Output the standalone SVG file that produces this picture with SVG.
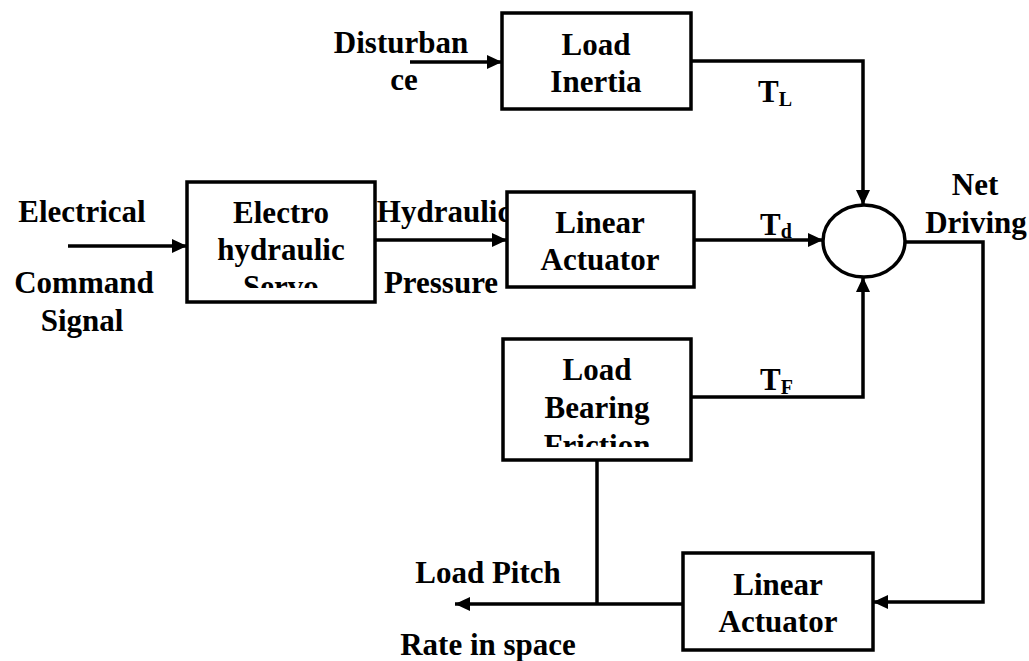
<svg xmlns="http://www.w3.org/2000/svg" width="1029" height="661" viewBox="0 0 1029 661">
<style>
text{font-family:'Liberation Serif','DejaVu Serif',serif;font-weight:700;font-size:31px;fill:#000;text-anchor:middle}
.sub{font-size:20px}
.box{fill:#fff;stroke:#000;stroke-width:3.5}
.wire{fill:none;stroke:#000;stroke-width:3.5}
</style>
<defs>
<marker id="ah" markerUnits="userSpaceOnUse" markerWidth="16" markerHeight="16" refX="15" refY="7" orient="auto">
<path d="M0,0 L15,7 L0,14 z" fill="#000"/>
</marker>
<clipPath id="c1"><rect x="187" y="182" width="188" height="106"/></clipPath>
<clipPath id="c2"><rect x="503" y="339" width="188" height="108"/></clipPath>
</defs>
<rect width="1029" height="661" fill="#fff"/>
<g id="connectors">
<line class="wire" x1="68" y1="246" x2="187" y2="246" marker-end="url(#ah)"/>
<line class="wire" x1="375" y1="240" x2="507" y2="240" marker-end="url(#ah)"/>
<line class="wire" x1="410" y1="62" x2="502" y2="62" marker-end="url(#ah)"/>
<polyline class="wire" points="691,61 863,61 863,205" marker-end="url(#ah)"/>
<line class="wire" x1="694" y1="240" x2="823" y2="240" marker-end="url(#ah)"/>
<polyline class="wire" points="691,397 863,397 863,277" marker-end="url(#ah)"/>
<polyline class="wire" points="905,242 983,242 983,602 873,602" marker-end="url(#ah)"/>
<line class="wire" x1="683" y1="604" x2="455" y2="604" marker-end="url(#ah)"/>
<line class="wire" x1="597" y1="460" x2="597" y2="604"/>
</g>
<g id="labels">
<text x="82" y="222">Electrical</text>
<text x="84" y="293">Command</text>
<text x="82" y="331">Signal</text>
<text x="444" y="222">Hydraulic</text>
<text x="441" y="293">Pressure</text>
<text x="401" y="53">Disturban</text>
<text x="404" y="90">ce</text>
<text x="758" y="102" style="text-anchor:start">T<tspan class="sub" dy="4">L</tspan></text>
<text x="760" y="235" style="text-anchor:start">T<tspan class="sub" dy="3">d</tspan></text>
<text x="760" y="390" style="text-anchor:start">T<tspan class="sub" dy="4">F</tspan></text>
<text x="975" y="195">Net</text>
<text x="976" y="233">Driving</text>
<text x="488" y="583">Load Pitch</text>
<text x="488" y="655">Rate in space</text>
</g>
<g id="electro-hydraulic-servo">
<rect class="box" x="187" y="182" width="188" height="120"/>
<g clip-path="url(#c1)">
<text x="281" y="223">Electro</text>
<text x="281" y="260">hydraulic</text>
<text x="281" y="297">Servo</text>
</g>
</g>
<g id="linear-actuator-1">
<rect class="box" x="507" y="192" width="187" height="95"/>
<text x="600" y="233">Linear</text>
<text x="600" y="270">Actuator</text>
</g>
<g id="load-inertia">
<rect class="box" x="502" y="13" width="189" height="96"/>
<text x="596" y="55">Load</text>
<text x="596" y="92">Inertia</text>
</g>
<g id="summing-junction">
<ellipse class="box" cx="864" cy="241" rx="41" ry="36"/>
</g>
<g id="load-bearing-friction">
<rect class="box" x="503" y="339" width="188" height="121"/>
<g clip-path="url(#c2)">
<text x="597" y="380">Load</text>
<text x="597" y="418">Bearing</text>
<text x="597" y="456">Friction</text>
</g>
</g>
<g id="linear-actuator-2">
<rect class="box" x="683" y="553" width="190" height="97"/>
<text x="778" y="595">Linear</text>
<text x="778" y="632">Actuator</text>
</g>
</svg>
